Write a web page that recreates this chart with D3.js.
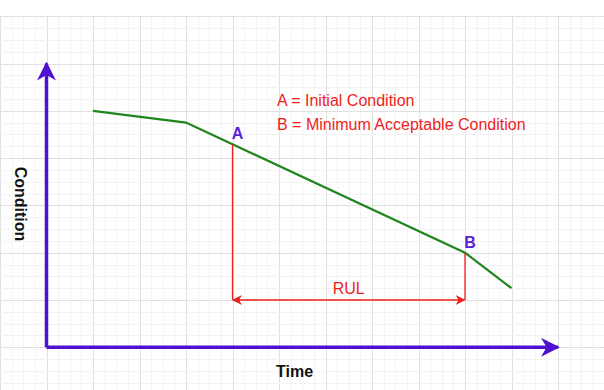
<!DOCTYPE html>
<html><head><meta charset="utf-8">
<script src="https://cdn.jsdelivr.net/npm/d3@7"></script>
<style>html,body{margin:0;padding:0;background:#fff;overflow:hidden}</style>
</head><body>
<svg id="c" width="604" height="390"></svg>
<script>
// ---- data ----
const timeValues = [1, 3, 9, 10];
const conditionValues = [5.0, 4.75, 2.0, 1.25];
const markerLabels = ["A", "B"];
const markerTimes = [4, 9];
const legendLines = ["A = Initial Condition", "B = Minimum Acceptable Condition"];
const rulLabel = "RUL";
const rulLevel = 1;
const axisTitles = ["Time", "Condition"];
const axisExtent = [11, 6];

// ---- scales ----
const svg = d3.select("#c");
const x = d3.scaleLinear().domain([0, 1]).range([46.5, 93.0]);
const y = d3.scaleLinear().domain([0, 1]).range([347.3, 300.0]);
const font = "Liberation Sans, Arial, Helvetica, sans-serif";

// ---- grid ----
const grid = svg.append("g");
const minorX = d3.range(-4, 50).map(i => i / 4).filter(v => x(v) >= -1 && x(v) <= 605);
const minorY = d3.range(-8, 32).map(i => i / 4).filter(v => y(v) >= 16 && y(v) <= 391);
grid.selectAll(".vx").data(minorX).join("line")
  .attr("x1", d => Math.round(x(d)) + 0.5).attr("x2", d => Math.round(x(d)) + 0.5)
  .attr("y1", y(7)).attr("y2", 390)
  .attr("stroke", d => Number.isInteger(d) ? "#e0e0e0" : "#f3f3f3").attr("stroke-width", 1);
grid.selectAll(".hy").data(minorY).join("line")
  .attr("y1", d => Math.round(y(d)) + 0.5).attr("y2", d => Math.round(y(d)) + 0.5)
  .attr("x1", 0).attr("x2", 604)
  .attr("stroke", d => Number.isInteger(d) ? "#e0e0e0" : "#f3f3f3").attr("stroke-width", 1);

// ---- markers ----
const defs = svg.append("defs");
function marker(id, color, w, h) {
  defs.append("marker").attr("id", id).attr("viewBox", "0 0 10 10")
    .attr("refX", 9).attr("refY", 5).attr("markerUnits", "userSpaceOnUse")
    .attr("markerWidth", w).attr("markerHeight", h).attr("orient", "auto-start-reverse")
    .append("path").attr("d", "M0,0 L10,5 L0,10 L3,5 Z").attr("fill", color);
}
const purple = "#4f10d0";
const red = "#f01c1c";
const green = "#1d861d";
marker("ap", purple, 19, 19);
marker("ar", red, 10, 10);

// ---- axes ----
svg.append("path")
  .attr("d", `M${x(0)},${y(0)} L${x(0)},${y(axisExtent[1])}`)
  .attr("stroke", purple).attr("stroke-width", 3.5).attr("fill", "none")
  .attr("marker-end", "url(#ap)");
svg.append("path")
  .attr("d", `M${x(0)},${y(0)} L${x(axisExtent[0])},${y(0)}`)
  .attr("stroke", purple).attr("stroke-width", 3.5).attr("fill", "none")
  .attr("marker-end", "url(#ap)");

// ---- condition curve ----
const pts = timeValues.map((t, i) => [t, conditionValues[i]]);
svg.append("path").datum(pts)
  .attr("d", d3.line().x(d => x(d[0])).y(d => y(d[1])))
  .attr("stroke", green).attr("stroke-width", 2.2).attr("fill", "none");

function condAt(t) {
  for (let i = 0; i < pts.length - 1; i++) {
    if (t >= pts[i][0] && t <= pts[i + 1][0]) {
      const f = (t - pts[i][0]) / (pts[i + 1][0] - pts[i][0]);
      return pts[i][1] + f * (pts[i + 1][1] - pts[i][1]);
    }
  }
  return pts[pts.length - 1][1];
}

// ---- vertical drop lines & labels ----
markerTimes.forEach((t, i) => {
  svg.append("line")
    .attr("x1", x(t)).attr("x2", x(t))
    .attr("y1", y(condAt(t))).attr("y2", y(rulLevel))
    .attr("stroke", red).attr("stroke-width", 1.3);
  svg.append("text")
    .attr("x", x(t) + 5).attr("y", y(condAt(t)) - 5)
    .attr("text-anchor", "middle")
    .attr("font-family", font)
    .attr("font-weight", "bold").attr("font-size", 16)
    .attr("fill", "#5a22d8").text(markerLabels[i]);
});

// ---- RUL arrow ----
svg.append("line")
  .attr("x1", x(markerTimes[0]) + 0.5).attr("x2", x(markerTimes[1]) - 0.5)
  .attr("y1", y(rulLevel)).attr("y2", y(rulLevel))
  .attr("stroke", red).attr("stroke-width", 1.3)
  .attr("marker-start", "url(#ar)").attr("marker-end", "url(#ar)");
svg.append("text")
  .attr("x", (x(markerTimes[0]) + x(markerTimes[1])) / 2).attr("y", y(rulLevel) - 6)
  .attr("text-anchor", "middle")
  .attr("font-family", font).attr("font-size", 16)
  .attr("fill", red).text(rulLabel);

// ---- legend text ----
svg.selectAll(".leg").data(legendLines).join("text")
  .attr("x", 277).attr("y", (d, i) => 105.5 + i * 24)
  .attr("font-family", font).attr("font-size", 16)
  .attr("fill", red).text(d => d);

// ---- axis titles ----
svg.append("text")
  .attr("x", 294.5).attr("y", 377).attr("text-anchor", "middle")
  .attr("font-family", font)
  .attr("font-weight", "bold").attr("font-size", 16).attr("fill", "#111")
  .text(axisTitles[0]);
svg.append("text")
  .attr("transform", "translate(15,204) rotate(90)")
  .attr("text-anchor", "middle")
  .attr("font-family", font)
  .attr("font-weight", "bold").attr("font-size", 16).attr("fill", "#111")
  .text(axisTitles[1]);
</script>
</body></html>
